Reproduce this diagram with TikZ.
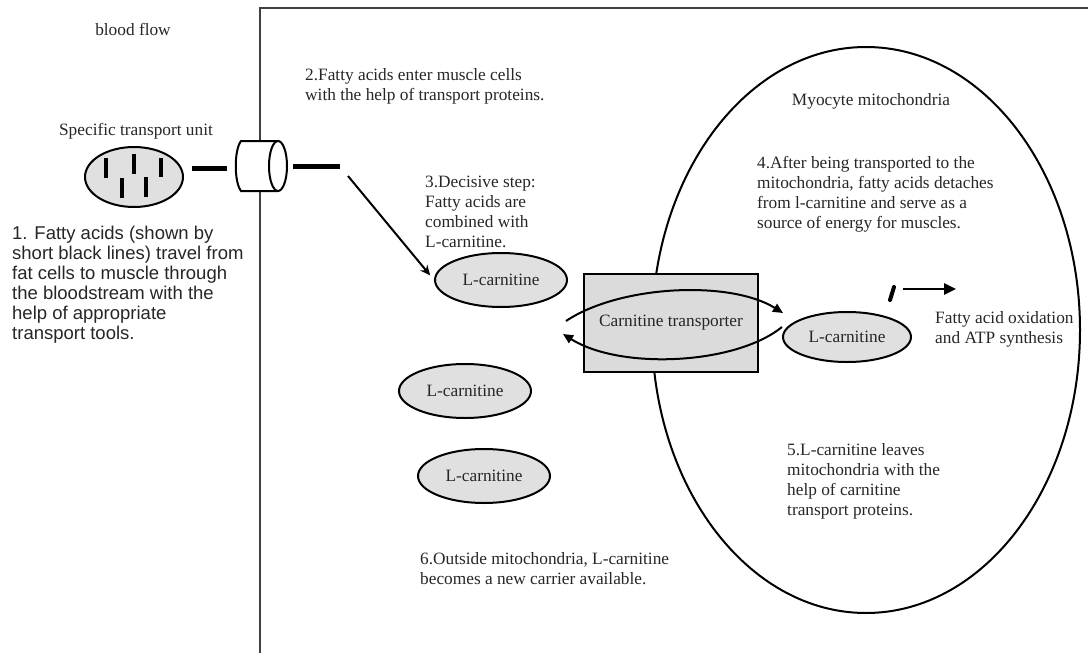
\documentclass[tikz,border=0pt]{standalone}
\usepackage{fontspec}
\setmainfont{Liberation Serif}
\newfontfamily\sansf{Liberation Sans}
\usetikzlibrary{shapes.geometric,arrows.meta}
\begin{document}
\begin{tikzpicture}[x=1pt,y=-1pt,
  txt/.style={font=\fontsize{17.3}{20}\selectfont, text=black!85, inner sep=0, align=left},
  stxt/.style={font=\sansf\fontsize{18.5}{20}\selectfont, text=black!85, inner sep=0, align=left},
  carn/.style={ellipse, draw, line width=2pt, fill=black!12, minimum width=132pt, minimum height=54pt, inner sep=0, font=\fontsize{17.3}{20}\selectfont, text=black!85},
  arr/.style={line width=2pt, -{Triangle[length=10pt,width=9pt]}},
  fa/.style={line width=5pt},
]
\useasboundingbox (0,0) rectangle (1088,653);
% muscle cell membrane
\coordinate (mbl) at (260,653);
\coordinate (mtl) at (260,8);
\coordinate (mtr) at (1090,8);
\draw[line width=1.6pt, black!75] (mbl) -- (mtl) -- (mtr);

% texts (anchor = baseline of the last line)
\node[txt, anchor=center] (bf) at (133,29) {blood flow};
\node[txt, anchor=center] (stu) at (136,131) {Specific transport unit};
\node[stxt, anchor=base west] (t1) at (12,339) {1. Fatty acids (shown by\\short black lines) travel from\\fat cells to muscle through\\the bloodstream with the\\help of appropriate\\transport tools.};
\node[txt, anchor=base west] (t2) at (305,100) {2.Fatty acids enter muscle cells\\with the help of transport proteins.};
\node[txt, anchor=base west] (t3) at (425,247) {3.Decisive step:\\Fatty acids are\\combined with\\L-carnitine.};
\node[txt, anchor=base west] (t4) at (757,228) {4.After being transported to the\\mitochondria, fatty acids detaches\\from l-carnitine and serve as a\\source of energy for muscles.};
\node[txt, anchor=base west] (t5) at (787,515) {5.L-carnitine leaves\\mitochondria with the\\help of carnitine\\transport proteins.};
\node[txt, anchor=base west] (t6) at (420,584) {6.Outside mitochondria, L-carnitine\\becomes a new carrier available.};
\node[txt, anchor=center] (mt) at (871,101) {Myocyte mitochondria};

% transport unit
\node[ellipse, draw, line width=2pt, fill=black!12, minimum width=98pt, minimum height=60pt, inner sep=0] (tu) at (134,177) {};
\draw[line width=4pt] (106,158) -- (106,178);
\draw[line width=4pt] (134,154) -- (134,174);
\draw[line width=4pt] (161,158) -- (161,177);
\draw[line width=4pt] (122,178) -- (122,198);
\draw[line width=4pt] (146,177) -- (146,197);
\draw[fa] (192,168) -- (227,168);

% transport protein (cylinder)
\filldraw[fill=white, line width=2pt] (278,141) -- (241,141) .. controls (234,150) and (234,182) .. (241,191) -- (278,191);
\draw[line width=2pt, fill=white] (278,166) ellipse [x radius=9, y radius=25];
\draw[fa] (293,166) -- (340,166);

% mitochondria
\node[ellipse, draw, line width=2pt, minimum width=428pt, minimum height=566pt, inner sep=0] (mito) at (866,330) {};

% carnitine transporter
\node[draw, line width=2pt, fill=black!14, minimum width=174pt, minimum height=98pt, inner sep=0, font=\fontsize{17.3}{20}\selectfont, text=black!85] (ct) at (671,323) {Carnitine transporter};

% L-carnitine
\node[carn] (c1) at (501,280) {L-carnitine};
\node[carn] (c2) at (465,391) {L-carnitine};
\node[carn] (c3) at (484,476) {L-carnitine};
\node[carn, minimum width=128pt, minimum height=50pt] (c4) at (847,337) {L-carnitine};

% arrows
\coordinate (a0) at (348,176);
\draw[line width=2pt, -{Stealth[length=10pt,width=9pt]}, shorten >=6pt] (a0) -- (c1.west);
\coordinate (u0) at (566,321);
\coordinate (u1) at (783,313);
\draw[arr] (u0) .. controls (620,285) and (730,280) .. (u1);
\coordinate (l0) at (782,327);
\coordinate (l1) at (563,334);
\draw[arr] (l0) .. controls (735,365) and (620,370) .. (l1);

% released fatty acid
\draw[line width=4pt, line cap=round] (890,300) -- (894,287);
\coordinate (f0) at (903,289);
\coordinate (f1) at (956,289);
\draw[line width=2.5pt, -{Triangle[length=12pt,width=11pt]}] (f0) -- (f1);
\node[txt, anchor=base west] (fao) at (935,343) {Fatty acid oxidation\\and ATP synthesis};
\end{tikzpicture}
\end{document}
